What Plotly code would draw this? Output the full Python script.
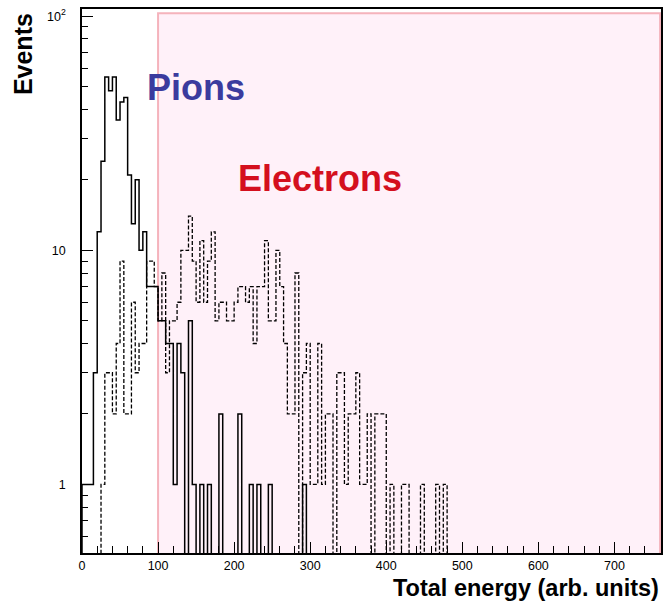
import plotly.graph_objects as go

# ---------------- data ----------------
bin_width = 5  # arb. units, bins start at 0

# Pions (solid histogram), counts per 5-unit bin starting at 0
pion_counts = [1, 1, 1, 3, 12, 24, 55, 48, 55, 36,
               43, 45, 21, 13, 20, 10, 12, 7, 7, 7,
               5, 5, 4, 4, 1, 4, 3, 0, 5, 1,
               0, 1, 0, 1, 0, 0, 2, 0, 0, 0,
               0, 2, 0, 0, 1, 0, 1, 0, 0, 1,
               0, 0, 0, 0, 0, 0, 0, 0, 1, 0]

# Electrons (dashed histogram), counts per 5-unit bin starting at 0
electron_counts = [0, 0, 0, 0, 0, 1, 3, 3, 2, 4,
                   9, 2, 2, 6, 3, 4, 4, 9, 9, 7,
                   5, 8, 3, 5, 5, 6, 10, 10, 14, 9,
                   6, 11, 6, 9, 12, 5, 6, 6, 5, 5,
                   6, 7, 7, 6, 7, 4, 7, 7, 11, 5,
                   5, 10, 7, 4, 2, 2, 8, 0, 3, 4,
                   1, 1, 4, 1, 2, 2, 0, 3, 3, 1,
                   2, 2, 3, 1, 1, 2, 0, 2, 2, 2,
                   0, 1, 0, 0, 1, 1, 0, 0, 0, 1,
                   0, 0, 0, 1, 0, 1]

x_tick_vals = [0, 100, 200, 300, 400, 500, 600, 700]
x_tick_text = ["0", "100", "200", "300", "400", "500", "600", "700"]
y_tick_vals = [1, 10, 100]
y_tick_text = ["1", "10", "10<sup>2</sup>"]
y_minor_vals = [0.6, 0.7, 0.8, 0.9, 2, 3, 4, 5, 6, 7, 8, 9,
                20, 30, 40, 50, 60, 70, 80, 90]

electron_window = [100, 760]  # shaded region (x range)
window_top = 103

x_range = [0, 761.2]
y_log_range = [-0.293, 2.031]

label_pions = "Pions"
label_electrons = "Electrons"
x_title = "Total energy (arb. units)"
y_title = "Events"

# ---------------- helpers ----------------
FLOOR = 0.3  # drawn value for empty bins (below visible range)


def step_xy(counts, w):
    xs, ys = [0], [FLOOR]
    for i, c in enumerate(counts):
        v = c if c > 0 else FLOOR
        xs += [i * w, (i + 1) * w]
        ys += [v, v]
    xs.append(len(counts) * w)
    ys.append(FLOOR)
    return xs, ys


fig = go.Figure()

# shaded electron window
x0, x1 = electron_window
fig.add_trace(go.Scatter(
    x=[x0, x1, x1, x0, x0], y=[0.49, 0.49, window_top, window_top, 0.49],
    mode="lines", fill="toself", fillcolor="#fff1f9",
    line=dict(color="#f5b3bc", width=2), hoverinfo="skip", showlegend=False))

ex, ey = step_xy(electron_counts, bin_width)
fig.add_trace(go.Scatter(x=ex, y=ey, mode="lines",
                         line=dict(color="black", width=1.3, dash="4px,2px"),
                         showlegend=False))

px_, py_ = step_xy(pion_counts, bin_width)
fig.add_trace(go.Scatter(x=px_, y=py_, mode="lines",
                         line=dict(color="black", width=1.5),
                         showlegend=False))

axis_common = dict(showline=True, mirror=True, linecolor="black", linewidth=1.5,
                   showgrid=False, zeroline=False, ticks="inside",
                   tickcolor="black", tickwidth=1,
                   tickfont=dict(family="Liberation Sans, Arial, sans-serif",
                                 size=12.5, color="black"))

fig.update_xaxes(range=x_range, tickmode="array", tickvals=x_tick_vals,
                 ticktext=x_tick_text, ticklen=11,
                 minor=dict(ticks="inside", dtick=20, ticklen=7,
                            tickcolor="black", tickwidth=1),
                 **axis_common)
fig.update_yaxes(type="log", range=y_log_range, tickmode="array",
                 tickvals=y_tick_vals, ticktext=y_tick_text, ticklen=11,
                 ticklabelstandoff=12,
                 minor=dict(ticks="inside", tickmode="array", tickvals=y_minor_vals,
                            ticklen=6, tickcolor="black", tickwidth=1),
                 **axis_common)

big_font = "Liberation Sans, Arial, Helvetica, sans-serif"

fig.add_annotation(text=f"<b>{label_pions}</b>", xref="paper", yref="paper",
                   x=0.108, y=0.855, xanchor="left", yanchor="middle",
                   showarrow=False, font=dict(family=big_font, size=36, color="#3b3b9e"))
fig.add_annotation(text=f"<b>{label_electrons}</b>", xref="paper", yref="paper",
                   x=0.2665, y=0.688, xanchor="left", yanchor="middle",
                   showarrow=False, font=dict(family=big_font, size=36, color="#d4101e"))
fig.add_annotation(text=f"<b>{y_title}</b>", xref="paper", yref="paper",
                   x=-0.102, y=0.996, xanchor="center", yanchor="top", textangle=-90,
                   showarrow=False, font=dict(family=big_font, size=25, color="black"))
fig.add_annotation(text=f"<b>{x_title}</b>", xref="paper", yref="paper",
                   x=1.0, y=-0.064, xanchor="right", yanchor="middle",
                   showarrow=False, font=dict(family=big_font, size=23.5, color="black"))

fig.update_layout(width=665, height=605,
                  margin=dict(l=82, r=2, t=9, b=52),
                  paper_bgcolor="white", plot_bgcolor="white",
                  showlegend=False)

fig.write_html("out.html")
